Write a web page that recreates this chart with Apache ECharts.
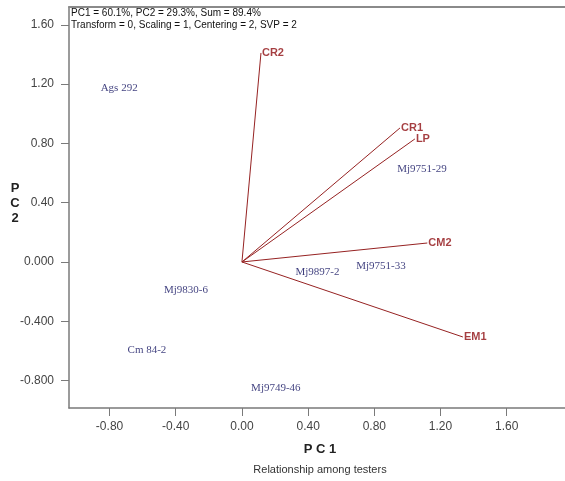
<!DOCTYPE html>
<html>
<head>
<meta charset="utf-8">
<script src="https://cdn.jsdelivr.net/npm/echarts@6/dist/echarts.min.js"></script>
<style>html,body{margin:0;padding:0;background:#fff}#c{width:565px;height:481px}</style>
</head>
<body>
<div id="c"></div>
<script>
// Tester vectors (biplot)
var vectorNames = ['CR2', 'CR1', 'LP', 'CM2', 'EM1'];
var vectorPC1 = [0.115, 0.955, 1.045, 1.12, 1.335];
var vectorPC2 = [1.41, 0.904, 0.83, 0.128, -0.506];
// Genotype points
var genoNames = ['Ags 292', 'Mj9751-29', 'Mj9751-33', 'Mj9897-2', 'Mj9830-6', 'Cm 84-2', 'Mj9749-46'];
var genoPC1 = [-0.742, 1.088, 0.84, 0.456, -0.338, -0.574, 0.205];
var genoPC2 = [1.174, 0.628, -0.025, -0.068, -0.189, -0.594, -0.85];
// Tick values and labels
var xTickValues = [-0.8, -0.4, 0, 0.4, 0.8, 1.2, 1.6];
var xTickLabels = ['-0.80', '-0.40', '0.00', '0.40', '0.80', '1.20', '1.60'];
var yTickValues = [-0.8, -0.4, 0, 0.4, 0.8, 1.2, 1.6];
var yTickLabels = ['-0.800', '-0.400', '0.000', '0.40', '0.80', '1.20', '1.60'];
var headerLines = ['PC1 = 60.1%, PC2 = 29.3%, Sum = 89.4%', 'Transform = 0, Scaling = 1, Centering = 2, SVP = 2'];

function lookup(vals, labels, v) {
  for (var i = 0; i < vals.length; i++) if (Math.abs(vals[i] - v) < 1e-6) return labels[i];
  return '';
}

var chart = echarts.init(document.getElementById('c'), null, {renderer: 'canvas'});
var series = [];
vectorNames.forEach(function (n, i) {
  series.push({
    type: 'line', data: [[0, 0], [vectorPC1[i], vectorPC2[i]]],
    symbol: 'none', silent: true,
    lineStyle: {color: '#962222', width: 1}
  });
});
series.push({
  type: 'scatter', symbolSize: 0, silent: true,
  data: vectorNames.map(function (n, i) { return {value: [vectorPC1[i], vectorPC2[i]], name: n}; }),
  label: {show: true, position: 'right', distance: 1, formatter: '{b}',
    color: '#8e0e12', fontWeight: 'bold', fontSize: 11, fontFamily: 'Liberation Sans, Arial, sans-serif'}
});
series.push({
  type: 'scatter', symbolSize: 0, silent: true,
  data: genoNames.map(function (n, i) { return {value: [genoPC1[i], genoPC2[i]], name: n}; }),
  label: {show: true, position: 'inside', formatter: '{b}',
    color: '#0f0f5e', fontSize: 11, fontFamily: 'Liberation Serif, Times New Roman, serif'}
});

var axisStyle = {color: '#7a7a7a', width: 1.5};
chart.setOption({
  animation: false,
  backgroundColor: '#fff',
  grid: {left: 69, top: 7, right: 0, bottom: 73, show: false},
  xAxis: [{
    type: 'value', min: -1.045, max: 1.952,
    axisLine: {show: true, onZero: false, lineStyle: axisStyle},
    splitLine: {show: false},
    axisTick: {show: true, inside: false, length: 8, customValues: xTickValues, lineStyle: {color: '#7a7a7a'}},
    axisLabel: {customValues: xTickValues, margin: 13, color: '#444', fontSize: 12,
      fontFamily: 'Liberation Sans, Arial, sans-serif',
      formatter: function (v) { return lookup(xTickValues, xTickLabels, v); }}
  }, {
    type: 'value', position: 'top', min: -1.045, max: 1.952,
    axisLine: {show: true, onZero: false, lineStyle: {color: '#8a8a8a', width: 2}},
    splitLine: {show: false}, axisTick: {show: false}, axisLabel: {show: false}
  }],
  yAxis: {
    type: 'value', min: -0.985, max: 1.72,
    axisLine: {show: true, onZero: false, lineStyle: axisStyle},
    splitLine: {show: false},
    axisTick: {show: true, inside: false, length: 8, customValues: yTickValues, lineStyle: {color: '#7a7a7a'}},
    axisLabel: {customValues: yTickValues, margin: 15, color: '#444', fontSize: 12,
      fontFamily: 'Liberation Sans, Arial, sans-serif',
      formatter: function (v) { return lookup(yTickValues, yTickLabels, v); }}
  },
  graphic: [
    {type: 'text', left: 71, top: 7, style: {text: headerLines.join('\n'), fill: '#111', font: '10px "Liberation Sans", Arial, sans-serif', lineHeight: 12}},
    {type: 'text', x: 320, y: 449, style: {text: 'P C 1', fill: '#222', font: 'bold 13px "Liberation Sans", Arial, sans-serif', align: 'center', verticalAlign: 'middle'}},
    {type: 'text', x: 320, y: 470, style: {text: 'Relationship among testers', fill: '#333', font: '11px "Liberation Sans", Arial, sans-serif', align: 'center', verticalAlign: 'middle'}},
    {type: 'text', x: 15, y: 203, style: {text: 'P\nC\n2', fill: '#222', font: 'bold 13px "Liberation Sans", Arial, sans-serif', align: 'center', verticalAlign: 'middle', lineHeight: 15}}
  ],
  series: series
});
</script>
</body>
</html>
